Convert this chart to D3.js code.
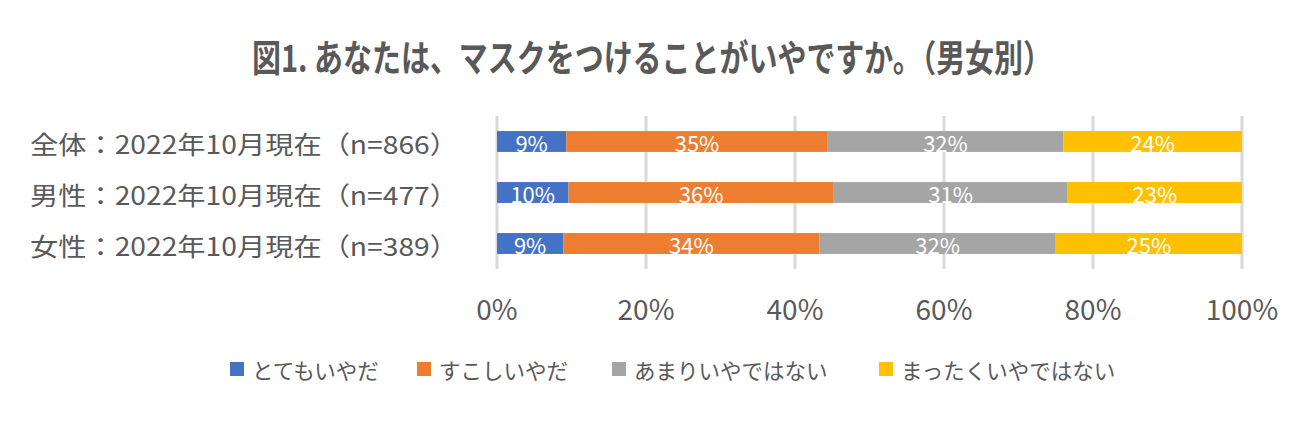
<!DOCTYPE html>
<html>
<head>
<meta charset="utf-8">
<script src="https://cdn.jsdelivr.net/npm/d3@7"></script>
<style>
  body { margin: 0; background: #fff; }
  text { font-family: "Noto Sans CJK JP", "Noto Sans", sans-serif; }
</style>
</head>
<body>
<div id="plot"></div>
<script>
// chart data
const categories = ["全体：2022年10月現在（n=866）", "男性：2022年10月現在（n=477）", "女性：2022年10月現在（n=389）"];
const seriesNames = ["とてもいやだ", "すこしいやだ", "あまりいやではない", "まったくいやではない"];
const veryDislike = [9.3, 9.6, 8.9];
const slightlyDislike = [35.1, 35.6, 34.4];
const notMuch = [31.6, 31.4, 31.7];
const notAtAll = [24.0, 23.4, 25.0];
const tickValues = [0, 20, 40, 60, 80, 100];
const colors = ["#4472C4", "#ED7D31", "#A5A5A5", "#FFC000"];

const width = 1308, height = 421;
const textColor = "#595959";

const svg = d3.select("#plot").append("svg")
    .attr("width", width)
    .attr("height", height);

const rows = categories.map((c, i) => ({
    cat: c,
    s0: veryDislike[i], s1: slightlyDislike[i], s2: notMuch[i], s3: notAtAll[i]
}));
const keys = ["s0", "s1", "s2", "s3"];
const stacked = d3.stack().keys(keys)(rows);

const x = d3.scaleLinear().domain([0, 100]).range([497, 1242]);
const y = d3.scaleBand().domain(categories).range([116, 269])
    .paddingInner(0.59).paddingOuter(0.295);

// title
svg.append("text")
    .attr("x", 252)
    .attr("y", 56)
    .attr("dominant-baseline", "central")
    .attr("textLength", 800)
    .attr("lengthAdjust", "spacingAndGlyphs")
    .style("font-size", "37px")
    .style("font-weight", "bold")
    .style("fill", textColor)
    .text("図1. あなたは、マスクをつけることがいやですか。（男女別）");

// gridlines
svg.append("g").selectAll("line")
    .data(tickValues)
    .enter().append("line")
    .attr("x1", d => x(d)).attr("x2", d => x(d))
    .attr("y1", 116).attr("y2", 269)
    .attr("stroke", "#D9D9D9")
    .attr("stroke-width", 3);

// bars
const layers = svg.append("g").selectAll("g")
    .data(stacked)
    .enter().append("g")
    .attr("fill", (d, i) => colors[i]);

layers.selectAll("rect")
    .data(d => d)
    .enter().append("rect")
    .attr("x", d => x(d[0]))
    .attr("y", d => y(d.data.cat))
    .attr("width", d => x(d[1]) - x(d[0]))
    .attr("height", y.bandwidth());

// data labels
layers.selectAll("text")
    .data(d => d)
    .enter().append("text")
    .attr("x", d => (x(d[0]) + x(d[1])) / 2)
    .attr("y", d => y(d.data.cat) + y.bandwidth() + 0.5)
    .attr("text-anchor", "middle")
    .style("font-size", "22px")
    .style("fill", "#fff")
    .text(d => Math.round(d[1] - d[0]) + "%");

// category labels
svg.append("g").selectAll("text")
    .data(categories)
    .enter().append("text")
    .attr("x", 458)
    .attr("y", d => y(d) + y.bandwidth() / 2 + 1)
    .attr("text-anchor", "end")
    .attr("dominant-baseline", "central")
    .attr("textLength", 428)
    .attr("lengthAdjust", "spacingAndGlyphs")
    .style("font-size", "25px")
    .style("fill", textColor)
    .text(d => d);

// x axis labels
svg.append("g").selectAll("text")
    .data(tickValues)
    .enter().append("text")
    .attr("x", d => x(d))
    .attr("y", 308)
    .attr("text-anchor", "middle")
    .attr("dominant-baseline", "central")
    .style("font-size", "28px")
    .style("fill", textColor)
    .text(d => d + "%");

// legend
const legendX = [230, 417, 612, 879];
const legend = svg.append("g").selectAll("g")
    .data(seriesNames)
    .enter().append("g")
    .attr("transform", (d, i) => `translate(${legendX[i]},362)`);

legend.append("rect")
    .attr("width", 14)
    .attr("height", 14)
    .attr("fill", (d, i) => colors[i]);

legend.append("text")
    .attr("x", 22)
    .attr("y", 7)
    .attr("dominant-baseline", "central")
    .style("font-size", "21.5px")
    .style("fill", textColor)
    .text(d => d);
</script>
</body>
</html>
